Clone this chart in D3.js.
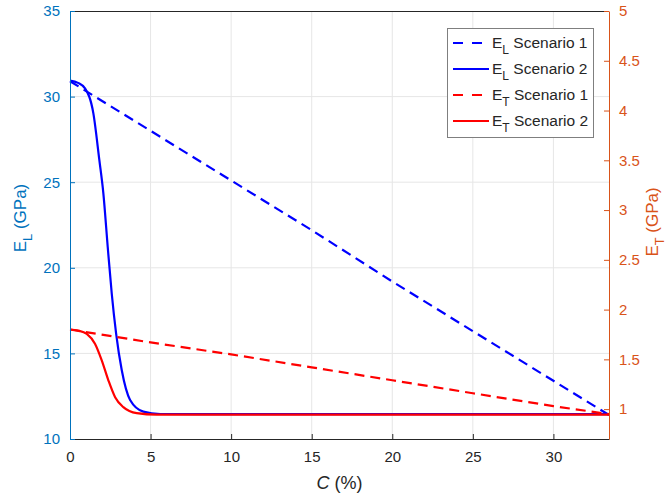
<!DOCTYPE html>
<html>
<head>
<meta charset="utf-8">
<script src="https://cdn.jsdelivr.net/npm/d3@7"></script>
<style>
  html, body { margin: 0; padding: 0; background: #fff; }
  svg { display: block; font-family: "Liberation Sans", Arial, sans-serif; }
</style>
</head>
<body>
<svg id="chart" width="667" height="497"></svg>
<script>
// ---- Data ----
const xTicks = [0, 5, 10, 15, 20, 25, 30];
const leftTicks = [10, 15, 20, 25, 30, 35];
const rightTicks = [1, 1.5, 2, 2.5, 3, 3.5, 4, 4.5, 5];
const rightTickLabels = ["1", "1.5", "2", "2.5", "3", "3.5", "4", "4.5", "5"];

const cLinear = [0, 5, 10, 15, 20, 25, 30, 33.45];
const eL1 = [30.9, 28.0, 25.1, 22.2, 19.2, 16.3, 13.4, 11.4];
const eT1 = [1.80, 1.67, 1.55, 1.42, 1.29, 1.16, 1.03, 0.95];

const cEL2 = [0, 0.5, 0.93, 1.45, 1.82, 2.07, 2.34, 2.59, 2.86, 3.21, 3.73, 4.55, 5.6, 8, 33.45];
const eL2 = [30.93, 30.8, 30.48, 29.02, 26.3, 24.35, 21.23, 18.5, 16.17, 14.03, 12.28, 11.6, 11.46, 11.45, 11.45];

const cET2 = [0, 0.5, 1.04, 1.55, 1.97, 2.38, 2.8, 3.31, 4.14, 5.38, 8, 33.45];
const eT2 = [1.80, 1.79, 1.757, 1.657, 1.49, 1.29, 1.12, 1.02, 0.96, 0.945, 0.945, 0.945];

const legendLabels = [
  {sym: "E", sub: "L", rest: " Scenario 1"},
  {sym: "E", sub: "L", rest: " Scenario 2"},
  {sym: "E", sub: "T", rest: " Scenario 1"},
  {sym: "E", sub: "T", rest: " Scenario 2"}
];

(function () {
// ---- Layout ----
const pL = 70, pR = 609, pT = 11, pB = 439;
const leftColor = "#0072BD", rightColor = "#D95319", axisGray = "#262626";
const blue = "#0000FF", red = "#FF0000";

const svg = d3.select("#chart");
const x = d3.scaleLinear().domain([0, 33.45]).range([pL, pR]);
const yL = d3.scaleLinear().domain([10, 35]).range([pB, pT]);
const yR = d3.scaleLinear().domain([0.7, 5]).range([pB, pT]);

// grid
const grid = svg.append("g");
grid.selectAll("line.gx").data(xTicks.filter(d => d > 0)).enter().append("line")
  .attr("x1", d => x(d)).attr("x2", d => x(d)).attr("y1", pT).attr("y2", pB)
  .attr("stroke", "#e6e6e6").attr("stroke-width", 1);
grid.selectAll("line.gy").data(leftTicks.filter(d => d > 10 && d < 35)).enter().append("line")
  .attr("x1", pL).attr("x2", pR).attr("y1", d => yL(d)).attr("y2", d => yL(d))
  .attr("stroke", "#e6e6e6").attr("stroke-width", 1);

// box top line
svg.append("line").attr("x1", pL).attr("x2", pR).attr("y1", pT + 0.5).attr("y2", pT + 0.5)
  .attr("stroke", axisGray).attr("stroke-width", 1);

// lines
const lineFrom = (xs, ys, yScale, curve) => d3.line()
  .x((d, i) => x(xs[i])).y(d => yScale(d)).curve(curve)(ys);

const plot = svg.append("g");
plot.append("path").attr("d", lineFrom(cLinear, eL1, yL, d3.curveLinear))
  .attr("fill", "none").attr("stroke", blue).attr("stroke-width", 2.2).attr("stroke-dasharray", "10,6");
plot.append("path").attr("d", lineFrom(cEL2, eL2, yL, d3.curveMonotoneX))
  .attr("fill", "none").attr("stroke", blue).attr("stroke-width", 2.2);
plot.append("path").attr("d", lineFrom(cLinear, eT1, yR, d3.curveLinear))
  .attr("fill", "none").attr("stroke", red).attr("stroke-width", 2.2).attr("stroke-dasharray", "10,6");
plot.append("path").attr("d", lineFrom(cET2, eT2, yR, d3.curveMonotoneX))
  .attr("fill", "none").attr("stroke", red).attr("stroke-width", 2.2);

// axes
const fs = 15;
const xAxis = svg.append("g").attr("transform", `translate(0,${pB})`)
  .call(d3.axisBottom(x).tickValues(xTicks).tickSizeInner(-5).tickSizeOuter(0).tickPadding(12).tickFormat(d3.format("d")));
xAxis.select(".domain").attr("stroke", axisGray);
xAxis.selectAll(".tick line").attr("stroke", axisGray);
xAxis.selectAll("text").attr("fill", axisGray).style("font-size", fs + "px");

const lAxis = svg.append("g").attr("transform", `translate(${pL},0)`)
  .call(d3.axisLeft(yL).tickValues(leftTicks).tickSizeInner(-5).tickSizeOuter(0).tickPadding(10).tickFormat(d3.format("d")));
lAxis.select(".domain").attr("stroke", leftColor);
lAxis.selectAll(".tick line").attr("stroke", leftColor);
lAxis.selectAll("text").attr("fill", leftColor).style("font-size", fs + "px");

const rAxis = svg.append("g").attr("transform", `translate(${pR},0)`)
  .call(d3.axisRight(yR).tickValues(rightTicks).tickSizeInner(-5).tickSizeOuter(0).tickPadding(10)
    .tickFormat((d, i) => rightTickLabels[i]));
rAxis.select(".domain").attr("stroke", rightColor);
rAxis.selectAll(".tick line").attr("stroke", rightColor);
rAxis.selectAll("text").attr("fill", rightColor).style("font-size", fs + "px");

// axis labels
const xl = svg.append("text").attr("x", (pL + pR) / 2).attr("y", 489)
  .attr("text-anchor", "middle").attr("fill", axisGray).style("font-size", "18px");
xl.append("tspan").style("font-style", "italic").text("C");
xl.append("tspan").text(" (%)");

function subLabel(g, sym, sub, rest, size) {
  const t = g.append("text").attr("text-anchor", "middle").style("font-size", size + "px");
  t.append("tspan").text(sym);
  t.append("tspan").attr("dy", size * 0.35).style("font-size", (size * 0.75) + "px").text(sub);
  t.append("tspan").attr("dy", -size * 0.35).text(rest);
  return t;
}
const ll = svg.append("g").attr("transform", `translate(26,218) rotate(-90)`);
subLabel(ll, "E", "L", " (GPa)", 17).attr("fill", leftColor);
const rl = svg.append("g").attr("transform", `translate(658,222) rotate(-90)`);
subLabel(rl, "E", "T", " (GPa)", 17).attr("fill", rightColor);

// legend
const lg = svg.append("g");
lg.append("rect").attr("x", 447.5).attr("y", 28.5).attr("width", 146).attr("height", 109)
  .attr("fill", "#fff").attr("stroke", "#7f7f7f").attr("stroke-width", 1);
const legStyles = [
  {c: blue, dash: "10,9"}, {c: blue, dash: null}, {c: red, dash: "10,9"}, {c: red, dash: null}
];
const rowY = [43, 69, 95, 121];
legendLabels.forEach((lab, i) => {
  const yy = rowY[i];
  const ln = lg.append("line").attr("x1", 453).attr("x2", 489).attr("y1", yy).attr("y2", yy)
    .attr("stroke", legStyles[i].c).attr("stroke-width", 2.2);
  if (legStyles[i].dash) ln.attr("stroke-dasharray", legStyles[i].dash);
  const t = lg.append("text").attr("x", 492).attr("y", yy + 5).attr("fill", axisGray).style("font-size", "15.5px");
  t.append("tspan").text(lab.sym);
  t.append("tspan").attr("dy", 6).style("font-size", "12px").text(lab.sub);
  t.append("tspan").attr("dy", -6).text(lab.rest);
});
})();
</script>
</body>
</html>
